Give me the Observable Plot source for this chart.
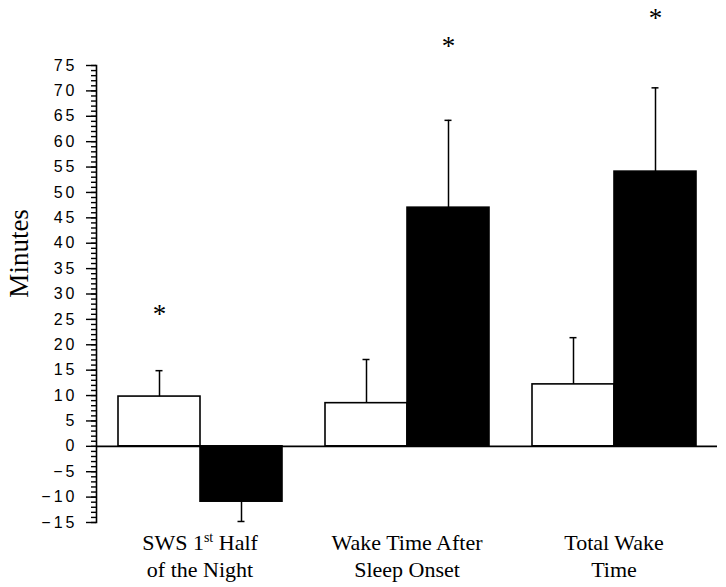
<!DOCTYPE html>
<html>
<head>
<meta charset="utf-8">
<script src="https://cdn.jsdelivr.net/npm/d3@7"></script>
<script src="https://cdn.jsdelivr.net/npm/@observablehq/plot@0.6"></script>
<style>
  html, body { margin: 0; padding: 0; background: #fff; }
  g[aria-label="y-axis tick label"] text { letter-spacing: 3px; }
</style>
</head>
<body>
<div id="chart"></div>
<script>
// ---- data ----
const groups = ["SWS 1st Half\nof the Night", "Wake Time After\nSleep Onset", "Total Wake\nTime"];
const seriesNames = ["Series 1", "Series 2"];          // white bars, black bars
const whiteValues = [9.8, 8.5, 12.2];
const whiteErrors = [5.1, 8.6, 9.2];
const blackValues = [-10.9, 47.0, 54.1];
const blackErrors = [3.9, 17.2, 16.5];
const starGroups = [groups[0], groups[1], groups[2]];
const starSeries = ["Series 1", "Series 2", "Series 2"];
const starLevels = [26.0, 78.7, 84.3];
const majorTicks = d3.range(-15, 76, 5);
const minorTicks = d3.range(-15, 76, 1);
const yLabel = "Minutes";
const yLabelLevel = [38];

// ---- tables built from the arrays ----
const rows = [];
groups.forEach((g, i) => {
  rows.push({group: g, series: seriesNames[0], value: whiteValues[i], err: whiteErrors[i]});
  rows.push({group: g, series: seriesNames[1], value: blackValues[i], err: blackErrors[i]});
});
rows.forEach(d => { d.end = d.value + Math.sign(d.value) * d.err; });
const stars = starGroups.map((g, i) => ({group: g, series: starSeries[i], level: starLevels[i]}));

const serif = "'Liberation Serif', 'Times New Roman', Times, serif";
const sans = "'Liberation Sans', Arial, Helvetica, sans-serif";

const chart = Plot.plot({
  width: 726,
  height: 587,
  marginLeft: 96,
  marginRight: 9,
  marginTop: 65,
  marginBottom: 65,
  style: {background: "#fff", color: "#000"},
  fx: {domain: groups, padding: 0},
  x: {domain: seriesNames, paddingInner: 0, paddingOuter: 0.25, axis: null},
  y: {domain: [-15, 75]},
  color: {domain: seriesNames, range: ["#ffffff", "#000000"]},
  marks: [
    Plot.barY(rows, {fx: "group", x: "series", y: "value", fill: "series", stroke: "#000", strokeWidth: 1.6}),
    Plot.ruleX(rows, {fx: "group", x: "series", y1: "value", y2: "end", stroke: "#000", strokeWidth: 1.5}),
    Plot.tickY(rows, {fx: "group", x: "series", y: "end", stroke: "#000", strokeWidth: 1.5, insetLeft: 37.5, insetRight: 37.5}),
    Plot.ruleY([0], {stroke: "#000", strokeWidth: 1.6}),
    Plot.frame({anchor: "left", facetAnchor: "left", stroke: "#000", strokeWidth: 1.6}),
    Plot.text(stars, {fx: "group", x: "series", y: "level", text: () => "*", fontSize: 27, fontFamily: serif, fill: "#000"}),
    Plot.axisY({ticks: minorTicks, tickSize: 5, tickFormat: () => "", label: null, strokeWidth: 1.4}),
    Plot.axisY({ticks: majorTicks, tickSize: 10, tickPadding: 9, label: null, fontSize: 16, fontFamily: sans, strokeWidth: 1.4}),
    Plot.text([yLabel], {facetAnchor: "left", frameAnchor: "left", y: yLabelLevel, text: d => d, rotate: -90, textAnchor: "middle", dx: -77, fontSize: 27, fontFamily: serif, fill: "#000"}),
    Plot.axisFx({anchor: "bottom", tickSize: 0, tickPadding: 9, label: null, fontSize: 22, lineHeight: 1.2, fontFamily: serif})
  ]
});
document.getElementById("chart").appendChild(chart);

// superscript for "1st"
chart.querySelectorAll("tspan, text").forEach(el => {
  if (el.children.length === 0 && el.textContent.includes("1st")) {
    const t = el.textContent;
    const k = t.indexOf("1st");
    const ns = "http://www.w3.org/2000/svg";
    el.textContent = "";
    el.appendChild(document.createTextNode(t.slice(0, k + 1)));
    const sup = document.createElementNS(ns, "tspan");
    sup.setAttribute("dy", "-8");
    sup.setAttribute("font-size", "14");
    sup.textContent = "st";
    el.appendChild(sup);
    const rest = document.createElementNS(ns, "tspan");
    rest.setAttribute("dy", "8");
    rest.textContent = t.slice(k + 3);
    el.appendChild(rest);
  }
});
</script>
</body>
</html>
